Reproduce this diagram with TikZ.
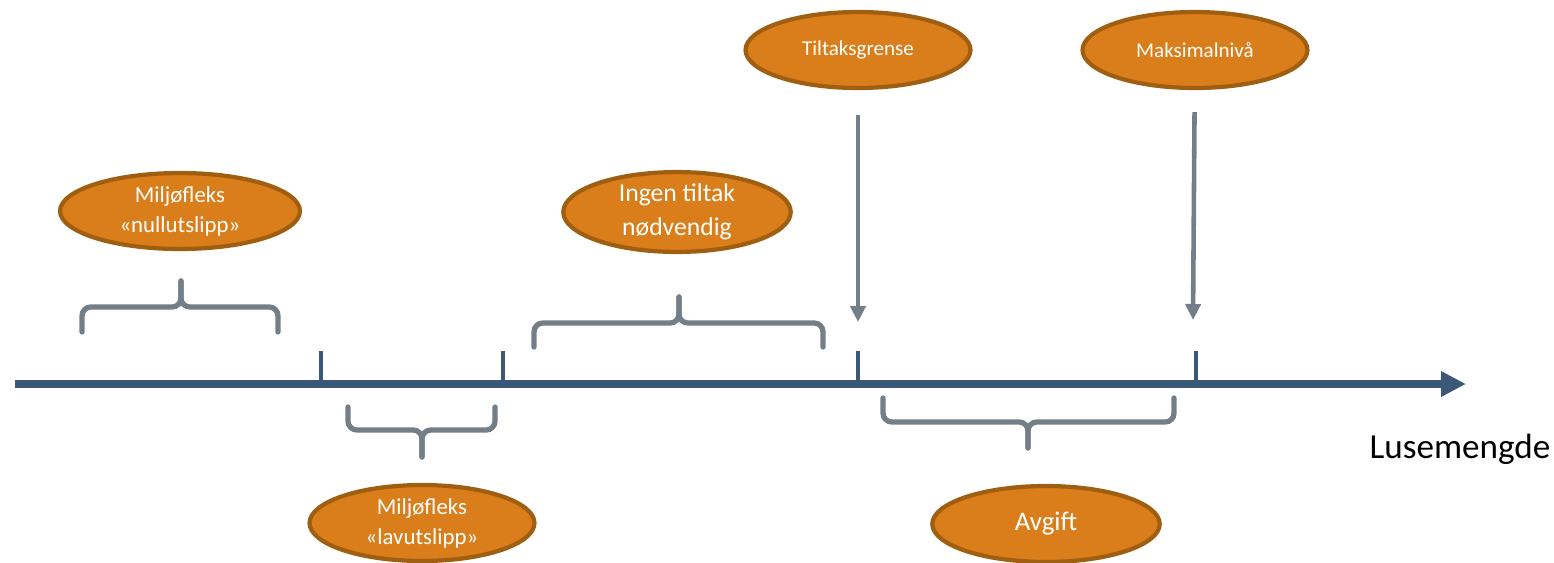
\documentclass[tikz,border=0pt]{standalone}
\usepackage{fontspec}
\setmainfont{Carlito}
\usetikzlibrary{arrows.meta,shapes.geometric}

\definecolor{oransje}{RGB}{217,126,26}
\definecolor{oransjekant}{RGB}{160,94,16}
\definecolor{aksefarge}{RGB}{59,88,121}
\definecolor{graa}{RGB}{115,126,137}

\begin{document}
\begin{tikzpicture}[x=0.02cm,y=-0.02cm,>=Triangle,
	boble/.style={ellipse,draw=oransjekant,fill=oransje,line width=2.4pt,text=white,
		align=center,inner sep=0pt,minimum width=4.8cm,minimum height=1.52cm},
	klamme/.style={draw=graa,line width=3pt,rounded corners=5pt,line cap=round},
	pil/.style={draw=graa,line width=2.6pt,-{Triangle[length=0.32cm,width=0.3cm]}},
	strek/.style={draw=aksefarge,line width=4pt}]
	\useasboundingbox (0,0) rectangle (1554,562);
	
	\node[boble,font=\fontsize{13}{17}\selectfont] (null) at (180,211) {Miljøfleks\\«nullutslipp»};
	\node[boble,font=\fontsize{13}{17}\selectfont,minimum width=4.5cm] (lav) at (422,523) {Miljøfleks\\«lavutslipp»};
	\node[boble,font=\fontsize{14.6}{19.5}\selectfont,minimum width=4.55cm] (ingen) at (677,212) {Ingen tiltak\\nødvendig};
	\node[boble,font=\fontsize{12}{14}\selectfont,minimum width=4.5cm] (tiltak) at (858,50) {Tiltaksgrense};
	\node[boble,font=\fontsize{12}{14}\selectfont,minimum width=4.5cm] (maks) at (1195,50) {Maksimalnivå};
	\node[boble,font=\fontsize{15.3}{18}\selectfont,minimum width=4.55cm] (avgift) at (1046,524) {Avgift};
	\node[font=\fontsize{20}{24}\selectfont] (luse) at (1460,449) {Lusemengde};
	
	% aksen
	\coordinate (start) at (15,384);
	\coordinate (slutt) at (1466,384);
	\draw[strek,-{Triangle[length=0.5cm,width=0.48cm]}] (start) -- (slutt);
	\foreach \x in {321,503,858,1196}
		\draw[strek,line width=2.8pt] (\x,351) -- (\x,384);
	
	% piler
	\coordinate (t1) at (858,322);
	\coordinate (m1) at (1193,320);
	\draw[pil,shorten <=0.5cm] (tiltak) -- (t1);
	\draw[pil,shorten <=0.44cm] (maks) -- (m1);
	
	% klammer
	\draw[klamme] (82,332) |- (181,307) -- (181,281);
	\draw[klamme] (278,332) |- (181,307) -- (181,281);
	\draw[klamme] (348,407) |- (422,430) -- (422,457);
	\draw[klamme] (495,407) |- (422,430) -- (422,457);
	\draw[klamme] (534,347) |- (679,323) -- (679,297);
	\draw[klamme] (823,347) |- (679,323) -- (679,297);
	\draw[klamme] (883,398) |- (1028,422) -- (1028,448);
	\draw[klamme] (1174,398) |- (1028,422) -- (1028,448);
\end{tikzpicture}
\end{document}
